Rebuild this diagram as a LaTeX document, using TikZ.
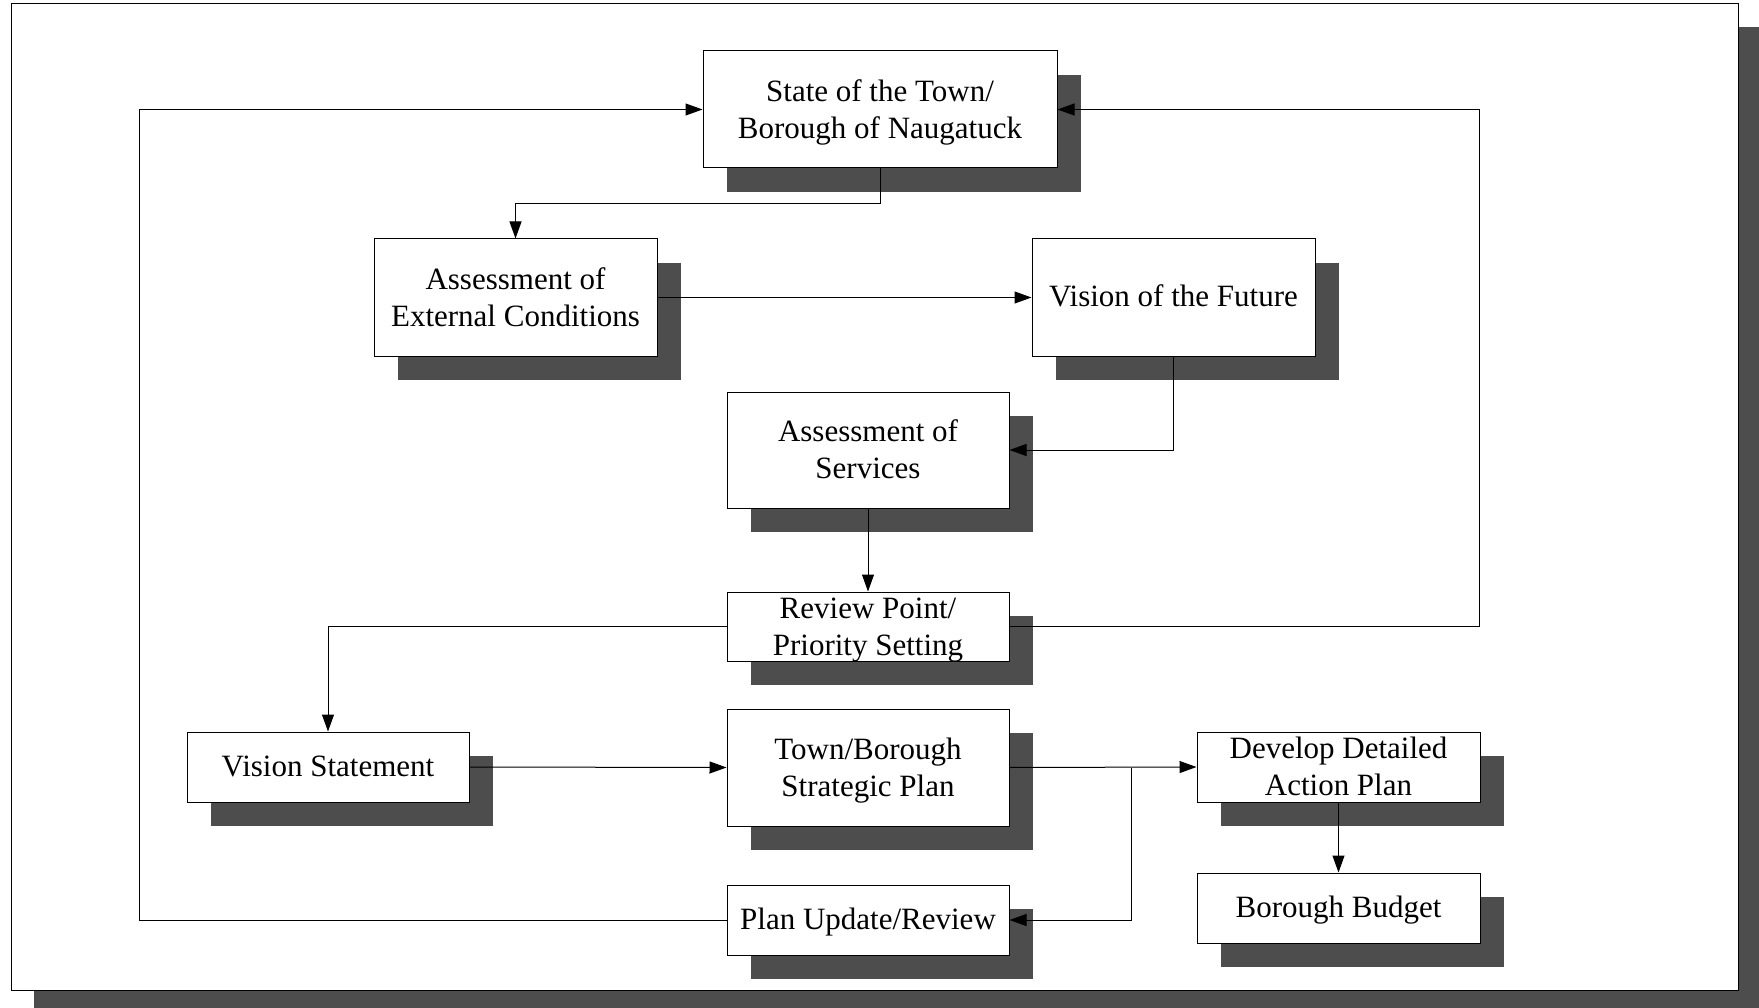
\documentclass[tikz,border=0pt]{standalone}
\usepackage{fontspec}
\setmainfont{Liberation Serif}
\usetikzlibrary{arrows.meta}
\definecolor{shadowgray}{HTML}{4D4D4D}
\begin{document}
\begin{tikzpicture}[x=1pt,y=-1pt,
  box/.style={draw=black, line width=1pt, fill=white, rectangle, inner sep=0pt,
    align=center, font=\fontsize{31}{37}\selectfont, minimum width=283pt,
    text height=21pt, text depth=2pt,
    preaction={fill=shadowgray, draw=none, transform canvas={shift={(24pt,-24pt)}}}},
  two/.style={text height=59pt, text depth=1.4pt},
  tall/.style={minimum height=117pt},
  short/.style={minimum height=70pt},
  conn/.style={line width=1pt, -{Triangle[length=17pt,width=12pt]}}]
\useasboundingbox (0,0) rectangle (1759,1008);
% frame
\fill[white] (0,0) rectangle (1759,1008);
\fill[fill=shadowgray] (34,27) rectangle (1759,1008);
\draw[fill=white, line width=1pt] (11,4) rectangle (1738,990);
% nodes
\node[box, two, tall, minimum width=354pt] (state) at (880,109.5) {State of the Town/\\Borough of Naugatuck};
\node[box, two, tall] (ext) at (515.5,297.5) {Assessment of\\External Conditions};
\node[box, tall] (vision) at (1173.5,297.5) {Vision of the Future};
\node[box, two, tall, minimum height=116pt, minimum width=282pt] (serv) at (868,450) {Assessment of\\Services};
\node[box, two, minimum height=69pt, minimum width=282pt] (review) at (868,626.5) {Review Point/\\Priority Setting};
\node[box, short, minimum width=282pt] (vs) at (328,767) {Vision Statement};
\node[box, two, tall, minimum width=282pt] (plan) at (868,767.5) {Town/Borough\\Strategic Plan};
\node[box, two, short] (dev) at (1338.5,767) {Develop Detailed\\Action Plan};
\node[box, short] (budget) at (1338.5,908) {Borough Budget};
\node[box, short, minimum width=282pt] (update) at (868,920) {Plan Update/Review};
% connectors
\draw[conn] (state.south) -- ++(0,35) -| (ext.north);
\draw[conn] (ext.east) -- (vision.west);
\draw[conn] (vision.south) |- (serv.east);
\draw[conn] (serv.south) -- (review.north);
\draw[conn] (review.west) -| (vs.north);
\draw[conn] (review.east) -- ++(470,0) |- (state.east);
\draw[conn] (vs.east) -- (plan.west);
\draw[conn] (plan.east) -- (dev.west);
\draw[conn] ([xshift=122pt]plan.east) |- (update.east);
\draw[conn] (update.west) -- ++(-587,0) |- (state.west);
\draw[conn] (dev.south) -- (budget.north);
\end{tikzpicture}
\end{document}
